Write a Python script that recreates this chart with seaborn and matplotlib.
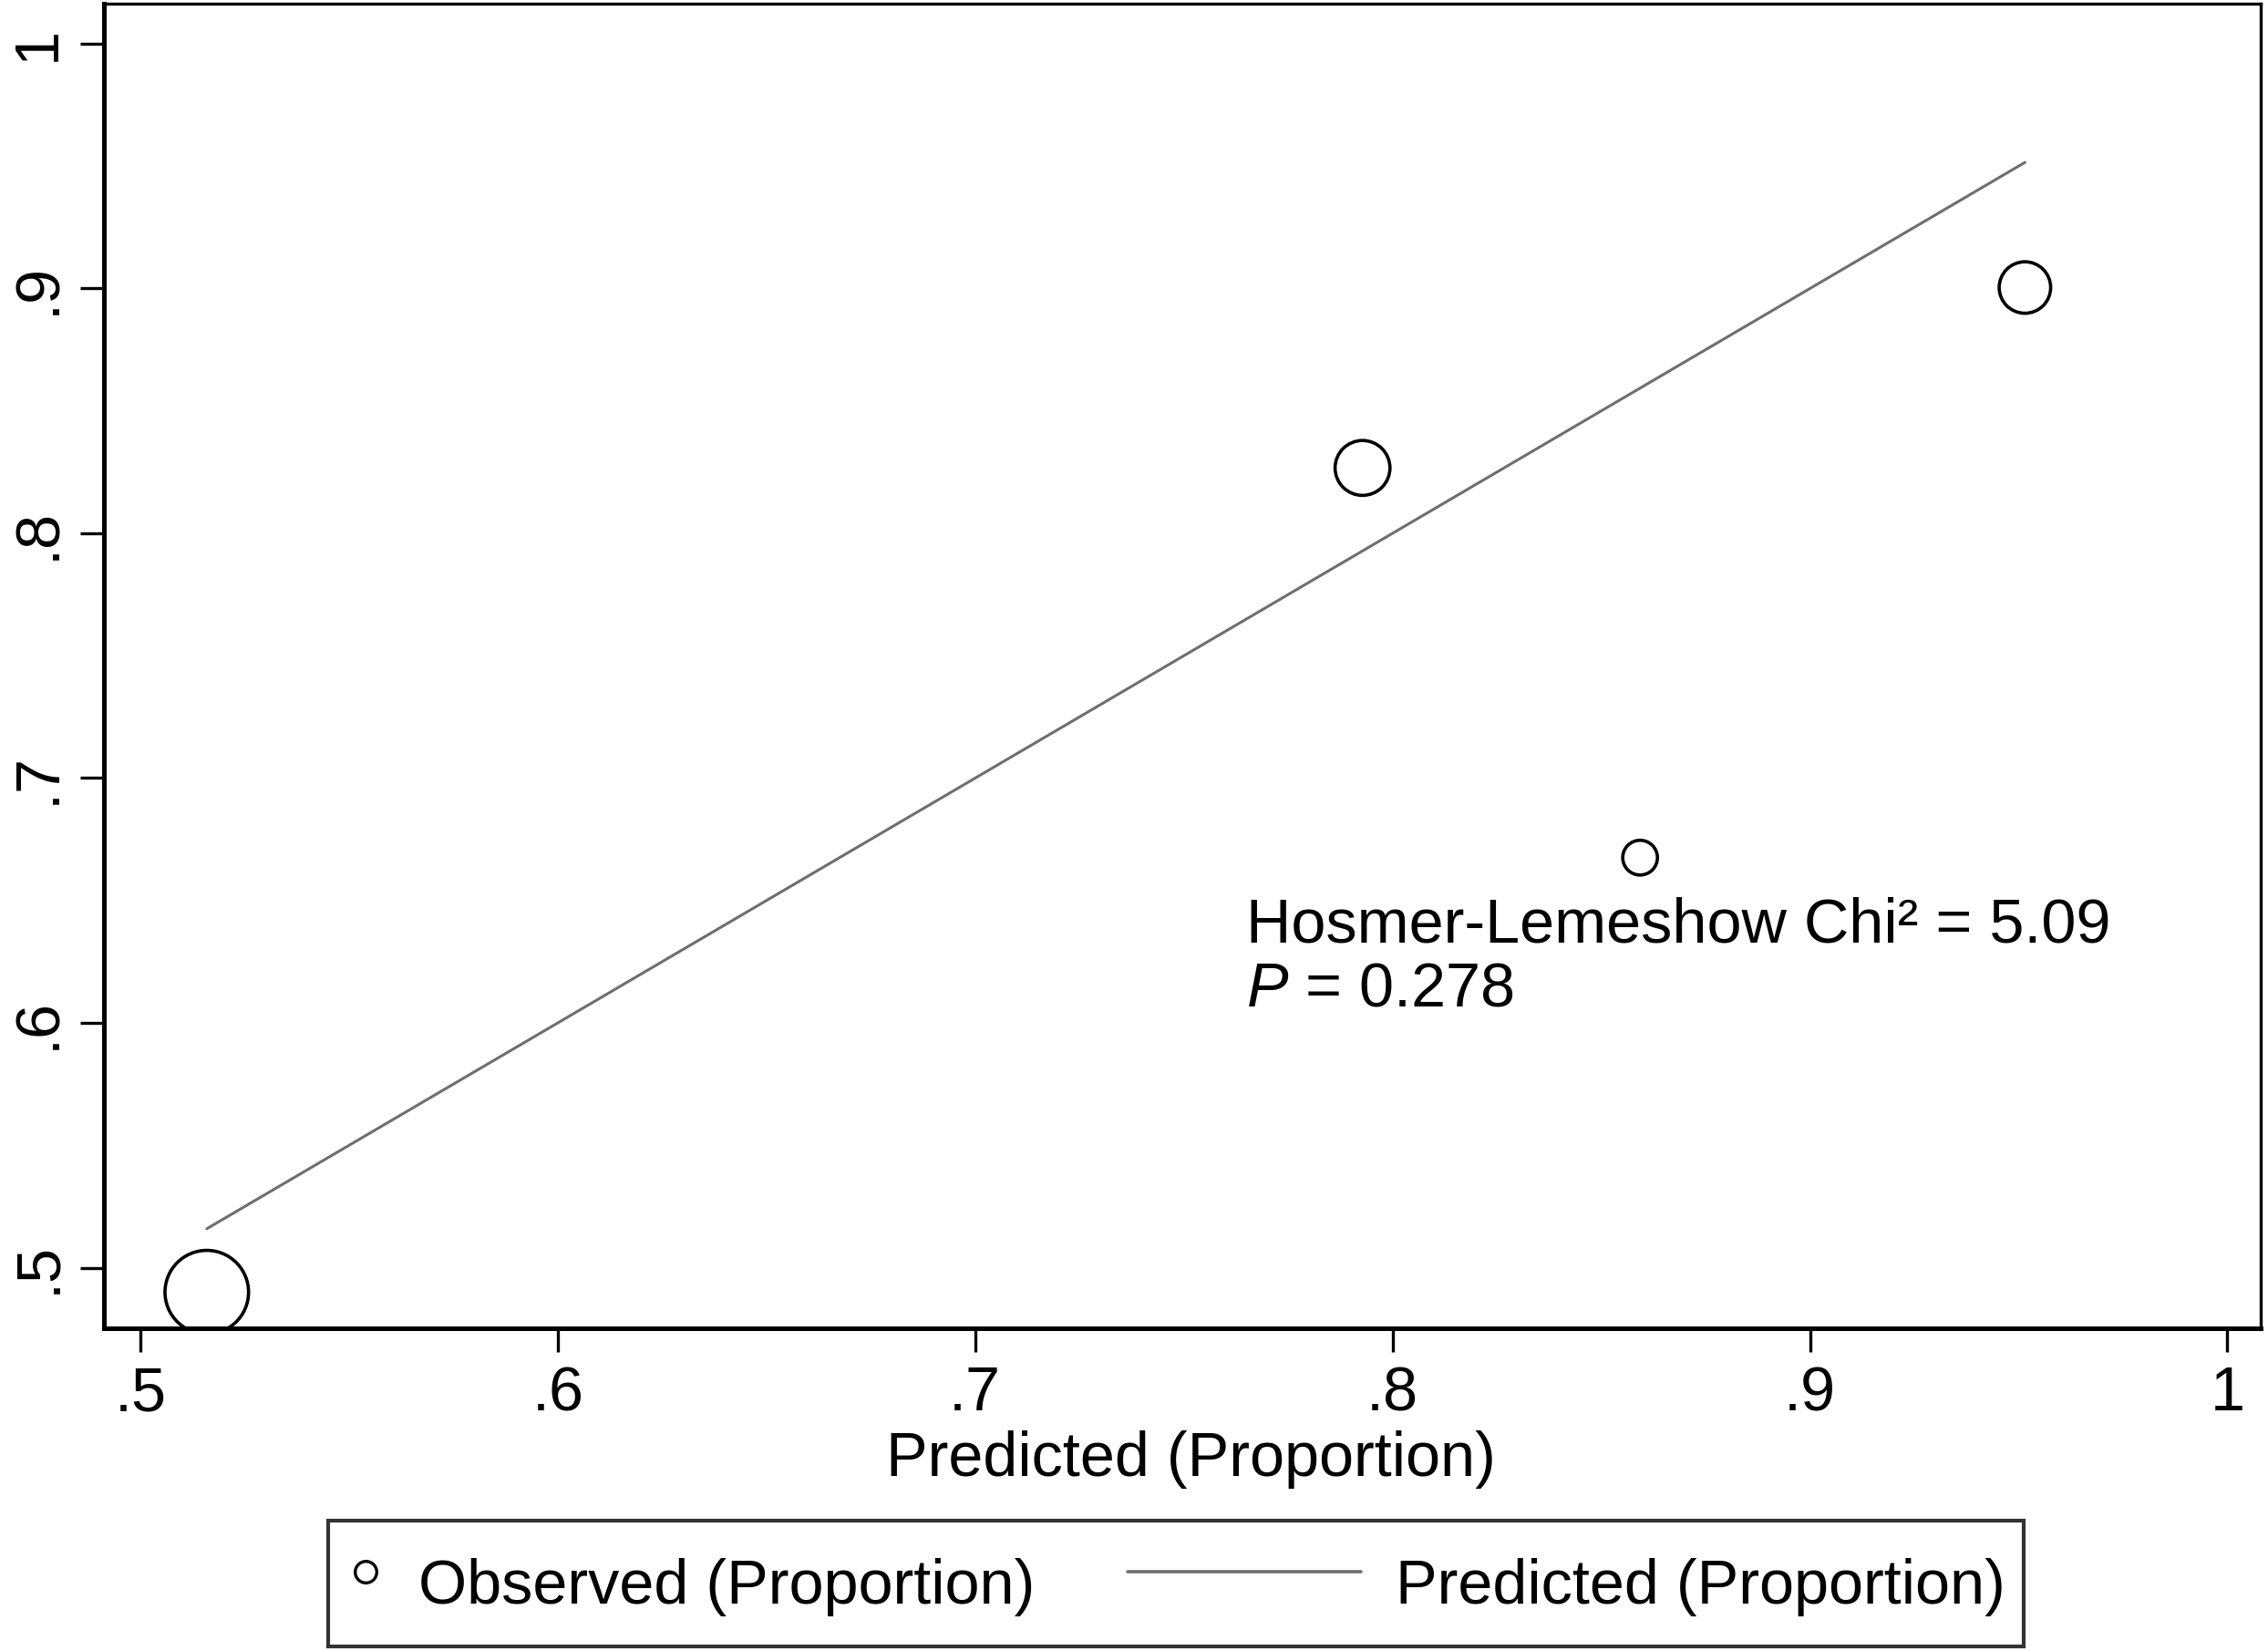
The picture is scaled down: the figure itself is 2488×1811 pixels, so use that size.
import matplotlib
matplotlib.use("Agg")
import matplotlib.pyplot as plt
from matplotlib.lines import Line2D
from matplotlib.legend_handler import HandlerLine2D
import numpy as np
import seaborn as sns
import pandas as pd

# ---- data ----
predicted = [0.5159, 0.7928, 0.8593, 0.9515]
observed = [0.490, 0.8267, 0.6675, 0.9004]
group_weight = [58, 25, 10, 22]
x_ticks = [0.5, 0.6, 0.7, 0.8, 0.9, 1.0]
x_tick_labels = [".5", ".6", ".7", ".8", ".9", "1"]
y_ticks = [0.5, 0.6, 0.7, 0.8, 0.9, 1.0]
y_tick_labels = [".5", ".6", ".7", ".8", ".9", "1"]
x_label = "Predicted (Proportion)"
legend_labels = ["Observed (Proportion)", "Predicted (Proportion)"]
annot_line1 = "Hosmer-Lemeshow Chi\u00b2 = 5.09"
annot_line2 = "$P$ = 0.278"

sns.set_theme(style="white")
plt.rcParams['font.family'] = ['Liberation Sans', 'DejaVu Sans']
plt.rcParams['mathtext.fontset'] = 'custom'
plt.rcParams['mathtext.it'] = 'Liberation Sans:italic'
plt.rcParams['mathtext.rm'] = 'Liberation Sans'
for k in ['text.color', 'axes.labelcolor', 'xtick.color', 'ytick.color']:
    plt.rcParams[k] = 'black'

FS = 24.6
LINE_COLOR = "#6e6e6e"
df = pd.DataFrame({"pred": predicted, "obs": observed, "w": group_weight})
line_df = pd.DataFrame({"x": predicted, "y": predicted})

fig = plt.figure(figsize=(12.44, 9.055), dpi=200)
ax = fig.add_axes([0.0459, 0.1954, 0.9509, 0.8026])

sns.lineplot(data=line_df, x="x", y="y", ax=ax, color=LINE_COLOR, linewidth=1.1,
             legend=False, sort=True, estimator=None)
sns.scatterplot(data=df, x="pred", y="obs", size="w", sizes=(188, 1089),
                size_norm=(10, 58), ax=ax, marker="o", facecolor="none",
                edgecolor="black", linewidth=1.3, legend=False)

ax.set_xlim(0.4913, 1.008)
ax.set_ylim(0.4752, 1.0165)
ax.set_xticks(x_ticks)
ax.set_xticklabels(x_tick_labels)
ax.set_yticks(y_ticks)
ax.set_yticklabels(y_tick_labels, rotation=90, va="center")
ax.tick_params(axis="both", which="major", length=9.4, width=1.2, color="black",
               labelsize=FS, pad=5, direction="out", bottom=True, left=True)
ax.set_xlabel(x_label, fontsize=FS, labelpad=3)
ax.xaxis.label.set_x(0.504)
ax.set_ylabel("")
for s in ax.spines.values():
    s.set_color("black")
    s.set_linewidth(1.8)
ax.spines["top"].set_linewidth(1.2)
ax.spines["right"].set_linewidth(1.2)

ax.text(0.765, 0.633, annot_line1, fontsize=FS, ha="left", va="baseline")
ax.text(0.765, 0.607, annot_line2, fontsize=FS, ha="left", va="baseline")


class LongLineHandler(HandlerLine2D):
    """Line handle that extends to the left of its (short) handle box."""
    def __init__(self, extra, **kw):
        super().__init__(**kw)
        self.extra = extra

    def create_artists(self, legend, orig_handle, xdescent, ydescent, width,
                       height, fontsize, trans):
        arts = super().create_artists(legend, orig_handle, xdescent, ydescent,
                                      width, height, fontsize, trans)
        line = arts[0]
        xd = np.asarray(line.get_xdata(), dtype=float)
        line.set_xdata(np.linspace(xd[0] - self.extra * fontsize, xd[-1], len(xd)))
        return arts


marker_handle = Line2D([], [], marker="o", linestyle="none", markerfacecolor="none",
                       markeredgecolor="black", markersize=8.5, markeredgewidth=1.2)
line_handle = Line2D([], [], color=LINE_COLOR, linewidth=1.3)
leg = fig.legend([marker_handle, line_handle], legend_labels, loc="lower left", ncol=2,
                 bbox_to_anchor=(0.1448, 0.003), borderaxespad=0, fontsize=FS,
                 frameon=True, fancybox=False, edgecolor="black",
                 handlelength=0.6, handleheight=1.8, handletextpad=0.55,
                 columnspacing=4.63, borderpad=0.3,
                 handler_map={line_handle: LongLineHandler(extra=3.15)})
leg.get_frame().set_linewidth(1.5)
fig.savefig("out.png", dpi=200, facecolor="white")
